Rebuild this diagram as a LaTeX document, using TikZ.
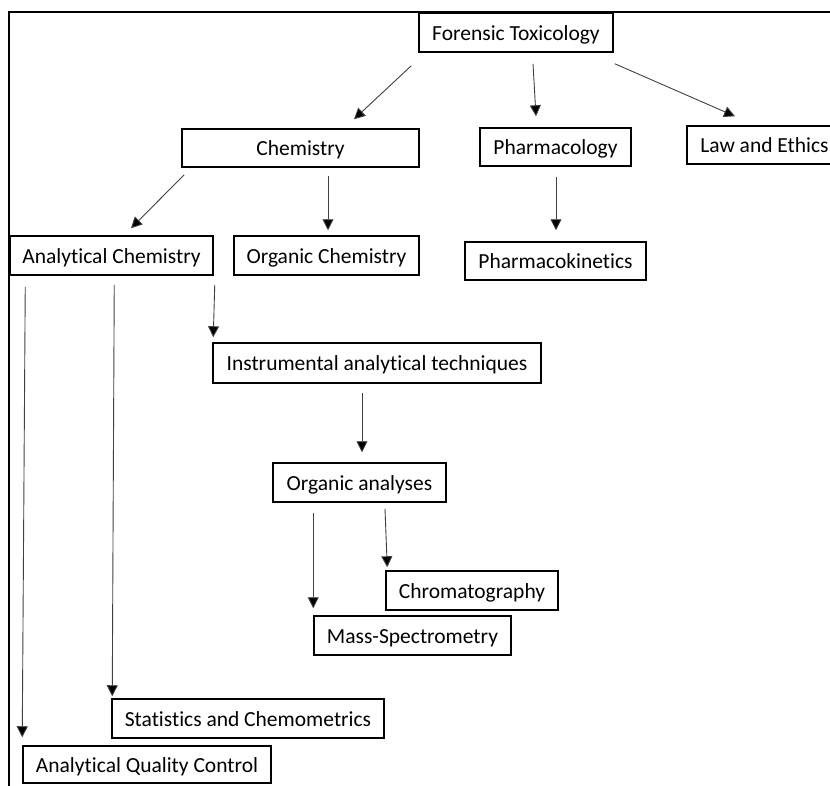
\documentclass[tikz,border=0pt]{standalone}
\usepackage{fontspec}
\setmainfont[Ligatures=CommonOff]{Carlito}
\usetikzlibrary{arrows.meta}
\begin{document}
\begin{tikzpicture}[x=1pt,y=-1pt,
  box/.style={draw=black,line width=1.5pt,fill=white,inner sep=0pt,
    text height=18pt,text depth=3pt,
    font=\fontsize{21.5}{25}\selectfont,text=black},
  arr/.style={draw=black!75,line width=0.9pt,
    -{Triangle[length=11pt,width=11pt,fill=black]}}]
\useasboundingbox (0,0) rectangle (830,785);
\clip (0,0) rectangle (830,785);
% page frame (top and left edges)
\draw[line width=1.5pt] (830,12) -- (9,12) -- (9,790);
% boxes
\node[box,minimum width=194pt,minimum height=39pt] (ft) at (516,32.5) {Forensic Toxicology};
\node[box,minimum width=237pt,minimum height=38pt] (chem) at (300.5,148) {Chemistry};
\node[box,minimum width=151pt,minimum height=38pt] (pharm) at (555.5,147) {Pharmacology};
\node[box,minimum width=155pt,minimum height=38pt] (law) at (764.5,145) {Law and Ethics};
\node[box,minimum width=181pt,minimum height=38pt] (pk) at (555.5,261) {Pharmacokinetics};
\node[box,minimum width=203pt,minimum height=39pt] (anal) at (111.5,255.5) {Analytical Chemistry};
\node[box,minimum width=185pt,minimum height=39pt] (org) at (326.5,255.5) {Organic Chemistry};
\node[box,minimum width=328pt,minimum height=40pt] (instr) at (377,363) {Instrumental analytical techniques};
\node[box,minimum width=173pt,minimum height=39pt] (oa) at (359.5,482.5) {Organic analyses};
\node[box,minimum width=172pt,minimum height=39pt] (chrom) at (472,590.5) {Chromatography};
\node[box,minimum width=197pt,minimum height=39pt] (mass) at (412.5,635.5) {Mass-Spectrometry};
\node[box,minimum width=272pt,minimum height=39pt] (stats) at (248,718.5) {Statistics and Chemometrics};
\node[box,minimum width=248pt,minimum height=37pt] (aqc) at (147,764.5) {Analytical Quality Control};
% connectors
\draw[arr] ([xshift=-7pt,yshift=-13pt]ft.south west) -- ([xshift=53.5pt,yshift=9pt]chem.north);
\draw[arr] ([xshift=17pt,yshift=-11pt]ft.south) -- ([xshift=-19.5pt,yshift=11pt]pharm.north);
\draw[arr] ([xshift=1pt,yshift=-11pt]ft.south east) -- ([xshift=-29.5pt,yshift=9pt]law.north);
\draw[arr] ([xshift=3pt,yshift=-7pt]chem.south west) -- ([xshift=19.5pt,yshift=7pt]anal.north);
\draw[arr] ([xshift=27.5pt,yshift=-8pt]chem.south) -- ([xshift=1.5pt,yshift=5pt]org.north);
\draw[arr] ([xshift=0.5pt,yshift=-10pt]pharm.south) -- ([xshift=0.5pt,yshift=11pt]pk.north);
\draw[arr] ([xshift=16pt,yshift=-11pt]anal.south west) -- ([xshift=0pt,yshift=8pt]aqc.north west);
\draw[arr] ([xshift=105pt,yshift=-9pt]anal.south west) -- ([xshift=1pt,yshift=2pt]stats.north west);
\draw[arr] ([xshift=1pt,yshift=-9pt]anal.south east) -- ([xshift=1pt,yshift=5pt]instr.north west);
\draw[arr] ([xshift=-15pt,yshift=-9pt]instr.south) -- ([xshift=2.5pt,yshift=10pt]oa.north);
\draw[arr] ([xshift=41pt,yshift=-10pt]oa.south west) -- ([xshift=0pt,yshift=7pt]mass.north west);
\draw[arr] ([xshift=25.5pt,yshift=-6pt]oa.south) -- ([xshift=2pt,yshift=3pt]chrom.north west);
\end{tikzpicture}
\end{document}
